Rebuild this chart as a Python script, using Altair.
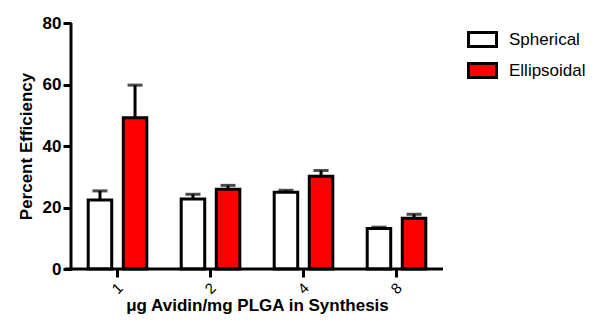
import altair as alt
import pandas as pd

doses = ["1", "2", "4", "8"]
shapes = ["Spherical", "Ellipsoidal"]
spherical_vals = [22.4, 22.8, 25.0, 13.2]
spherical_err = [3.0, 1.5, 0.6, 0.4]
ellipsoidal_vals = [49.2, 25.9, 30.2, 16.5]
ellipsoidal_err = [10.6, 1.3, 1.8, 1.3]

rows = []
for i, d in enumerate(doses):
    rows.append({"dose": d, "shape": "Spherical", "value": spherical_vals[i],
                 "top": spherical_vals[i] + spherical_err[i]})
    rows.append({"dose": d, "shape": "Ellipsoidal", "value": ellipsoidal_vals[i],
                 "top": ellipsoidal_vals[i] + ellipsoidal_err[i]})
df = pd.DataFrame(rows)

FONT = "Liberation Sans"

x_enc = alt.X("dose:N", sort=doses,
              scale=alt.Scale(paddingInner=0.37, paddingOuter=0.185),
              axis=alt.Axis(title="μg Avidin/mg PLGA in Synthesis", labelAngle=-45,
                            labelAlign="center", labelBaseline="middle",
                            labelFontSize=15, labelFont=FONT, labelColor="black",
                            titleFontSize=17, titleFont=FONT, titleFontWeight="bold",
                            titleColor="black", titlePadding=1, labelPadding=11,
                            domain=False,
                            tickColor="black", tickWidth=3, tickSize=8))
xo_enc = alt.XOffset("shape:N", sort=shapes,
                     scale=alt.Scale(paddingInner=0.33, paddingOuter=0))
y_scale = alt.Scale(domain=[0, 80], nice=False)

bars = alt.Chart(df).mark_bar(stroke="black", strokeWidth=3).encode(
    x=x_enc,
    xOffset=xo_enc,
    y=alt.Y("value:Q", scale=y_scale,
            axis=alt.Axis(title="Percent Efficiency", values=[0, 20, 40, 60, 80],
                          labelFontSize=17, labelFontWeight="bold", labelFont=FONT,
                          labelColor="black", titleFontSize=17, titleFont=FONT,
                          titleFontWeight="bold", titleColor="black", titlePadding=7,
                          labelPadding=2, domain=False,
                          tickColor="black", tickWidth=3, tickSize=8)),
    fill=alt.Fill("shape:N", sort=shapes,
                  scale=alt.Scale(domain=shapes, range=["white", "#ff0000"]),
                  legend=alt.Legend(title=None, orient="none", legendX=396, legendY=1,
                                    symbolType="M-1,-0.5H1V0.5H-1Z", symbolSize=784,
                                    symbolStrokeColor="black", symbolStrokeWidth=3,
                                    labelFontSize=17, labelFont=FONT, labelColor="black",
                                    labelOffset=11, rowPadding=2, padding=0,
                                    labelLimit=200)),
)

err = alt.Chart(df).mark_rule(color="black", strokeWidth=3).encode(
    x=x_enc, xOffset=xo_enc,
    y=alt.Y("value:Q", scale=y_scale), y2="top:Q")

cap = alt.Chart(df).mark_tick(color="black", thickness=3, size=15).encode(
    x=x_enc, xOffset=xo_enc,
    y=alt.Y("top:Q", scale=y_scale))

axis_df = pd.DataFrame({"k": [0]})
xaxis_line = alt.Chart(axis_df).mark_rect(color="black").encode(
    x=alt.value(-6), x2=alt.value(372), y=alt.value(244.5), y2=alt.value(247.5))
yaxis_line = alt.Chart(axis_df).mark_rect(color="black").encode(
    x=alt.value(-1.5), x2=alt.value(1.5), y=alt.value(0), y2=alt.value(247.5))

chart = alt.layer(err, cap, bars, xaxis_line, yaxis_line).properties(
    width=372, height=246,
    autosize=alt.AutoSizeParams(type="none"),
    padding={"left": 63, "top": 15, "right": 149, "bottom": 50},
).configure_axis(
    grid=False
).configure_view(stroke=None)

chart.save("out.html", embed_options={"renderer": "svg", "actions": False})
